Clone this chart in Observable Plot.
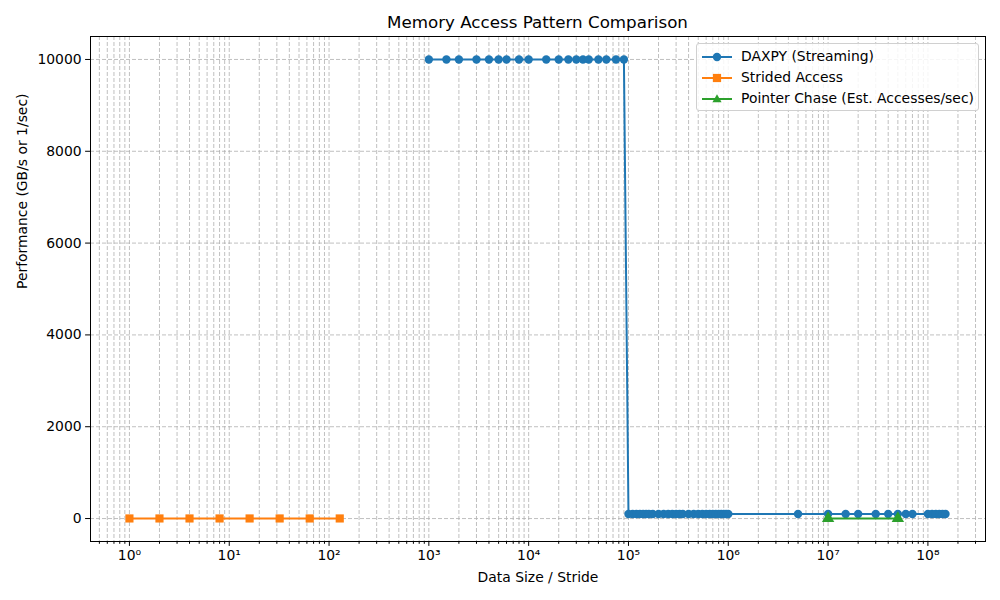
<!DOCTYPE html>
<html>
<head>
<meta charset="utf-8">
<script src="https://cdn.jsdelivr.net/npm/d3@7"></script>
<script src="https://cdn.jsdelivr.net/npm/@observablehq/plot@0.6"></script>
<style>
  body { margin: 0; background: #fff; font-family: "DejaVu Sans", sans-serif; }
  #wrap { position: relative; width: 1000px; height: 600px; }
  #title { height: 36px; box-sizing: border-box; padding-left: 75px; text-align: center; font-size: 16.7px; line-height: 44px; color: #000; }
  .legend { position: absolute; left: 696px; top: 43px; width: 281px; height: 66px; border: 1px solid #d0d0d0; border-radius: 3px; background: rgba(255,255,255,0.85); font-size: 13.9px; }
  .legend .row { position: absolute; left: 0; height: 20px; width: 100%; }
  .legend svg { position: absolute; left: 5px; top: 0; }
  .legend span { position: absolute; left: 44px; top: 1px; white-space: nowrap; }
</style>
</head>
<body>
<div id="wrap">
  <div id="title">Memory Access Pattern Comparison</div>
  <div id="chart"></div>
  <div class="legend" id="legend"></div>
</div>
<script>
// ---- data ----
const daxpySizes = [1000, 1500, 2000, 3000, 4000, 5000, 6000, 8000, 10000, 15000, 20000, 25000, 30000, 35000, 40000, 50000, 60000, 75000, 90000,
  100000, 110000, 120000, 130000, 140000, 150000, 160000, 175000, 200000, 225000, 250000, 275000, 300000, 325000, 350000, 400000, 450000, 500000, 550000, 600000, 650000, 700000, 750000, 800000, 850000, 900000, 950000, 1000000,
  5000000, 10000000, 15000000, 20000000, 30000000, 40000000, 50000000, 60000000, 70000000, 100000000, 110000000, 120000000, 130000000, 140000000, 150000000];
const daxpyPerf = [10000, 10000, 10000, 10000, 10000, 10000, 10000, 10000, 10000, 10000, 10000, 10000, 10000, 10000, 10000, 10000, 10000, 10000, 10000,
  100, 100, 100, 100, 100, 100, 100, 100, 100, 100, 100, 100, 100, 100, 100, 100, 100, 100, 100, 100, 100, 100, 100, 100, 100, 100, 100, 100,
  100, 100, 100, 100, 100, 100, 100, 100, 100, 100, 100, 100, 100, 100, 100];
const stridedStrides = [1, 2, 4, 8, 16, 32, 64, 128];
const stridedPerf = [2, 2, 2, 2, 2, 2, 2, 2];
const chaseSizes = [10000000, 50000000];
const chasePerf = [1, 1];
const seriesNames = ["DAXPY (Streaming)", "Strided Access", "Pointer Chase (Est. Accesses/sec)"];
const seriesColors = ["#1f77b4", "#ff7f0e", "#2ca02c"];
const yTicks = [0, 2000, 4000, 6000, 8000, 10000];
const xMajor = [1, 10, 100, 1e3, 1e4, 1e5, 1e6, 1e7, 1e8];

// ---- derived tables ----
const daxpy = daxpySizes.map((x, i) => ({x, y: daxpyPerf[i]}));
const strided = stridedStrides.map((x, i) => ({x, y: stridedPerf[i]}));
const chase = chaseSizes.map((x, i) => ({x, y: chasePerf[i]}));

const xDomain = [Math.pow(10, -0.39), Math.pow(10, 8.577)];
const xMinor = [];
for (let e = -1; e <= 8; e++) for (let m = 2; m <= 9; m++) {
  const v = m * Math.pow(10, e);
  if (v >= xDomain[0] && v <= xDomain[1]) xMinor.push(v);
}
const sup = {"-": "⁻", "0": "⁰", "1": "¹", "2": "²", "3": "³", "4": "⁴", "5": "⁵", "6": "⁶", "7": "⁷", "8": "⁸", "9": "⁹"};
const fmtPow = d => "10" + String(Math.round(Math.log10(d))).split("").map(c => sup[c]).join("");

const grid = {stroke: "#b0b0b0", strokeOpacity: 1, strokeWidth: 0.8, strokeDasharray: "4,2"};

const chart = Plot.plot({
  width: 1000,
  height: 564,
  marginTop: 0,
  marginLeft: 90,
  marginRight: 15,
  marginBottom: 59,
  style: {fontFamily: "DejaVu Sans, sans-serif", fontSize: "13.9px", color: "#000", background: "#fff"},
  x: {type: "log", domain: xDomain},
  y: {domain: [-500, 10500]},
  marks: [
    Plot.gridX(xMinor, grid),
    Plot.gridX(xMajor, grid),
    Plot.gridY(yTicks, grid),
    Plot.line(daxpy, {x: "x", y: "y", stroke: seriesColors[0], strokeWidth: 2}),
    Plot.dot(daxpy, {x: "x", y: "y", fill: seriesColors[0], r: 4.2, symbol: "circle"}),
    Plot.line(strided, {x: "x", y: "y", stroke: seriesColors[1], strokeWidth: 2}),
    Plot.dot(strided, {x: "x", y: "y", fill: seriesColors[1], r: 4.6, symbol: "square"}),
    Plot.line(chase, {x: "x", y: "y", stroke: seriesColors[2], strokeWidth: 2}),
    Plot.dot(chase, {x: "x", y: "y", fill: seriesColors[2], r: 4.6, symbol: "triangle"}),
    Plot.frame({stroke: "#000", strokeWidth: 1}),
    Plot.axisX(xMinor, {tickSize: 2.8, tickFormat: () => "", label: null}),
    Plot.axisX(xMajor, {tickSize: 4.9, tickPadding: 4, tickFormat: fmtPow, label: null, fontSize: 13.9}),
    Plot.axisY(yTicks, {tickSize: 4.9, tickPadding: 4, tickFormat: d => String(d), label: null, fontSize: 13.9}),
    Plot.text(["Data Size / Stride"], {frameAnchor: "bottom", dy: 40, fontSize: 13.9, textAnchor: "middle"}),
    Plot.text(["Performance (GB/s or 1/sec)"], {frameAnchor: "left", dx: -68, rotate: -90, fontSize: 13.9})
  ]
});
document.getElementById("chart").appendChild(chart);

// ---- legend ----
const legend = document.getElementById("legend");
const symbols = ["circle", "square", "triangle"];
seriesNames.forEach((name, i) => {
  const row = document.createElement("div");
  row.className = "row";
  row.style.top = (3 + i * 21) + "px";
  const c = seriesColors[i];
  let sym;
  if (symbols[i] === "circle") sym = `<circle cx="15" cy="10" r="4.2" fill="${c}"/>`;
  else if (symbols[i] === "square") sym = `<rect x="10.9" y="5.9" width="8.2" height="8.2" fill="${c}"/>`;
  else sym = `<path d="M15,5.3 L19.6,13.3 L10.4,13.3 Z" fill="${c}"/>`;
  row.innerHTML = `<svg width="30" height="20"><line x1="0" x2="30" y1="10" y2="10" stroke="${c}" stroke-width="2"/>${sym}</svg><span>${name}</span>`;
  legend.appendChild(row);
});
</script>
</body>
</html>
